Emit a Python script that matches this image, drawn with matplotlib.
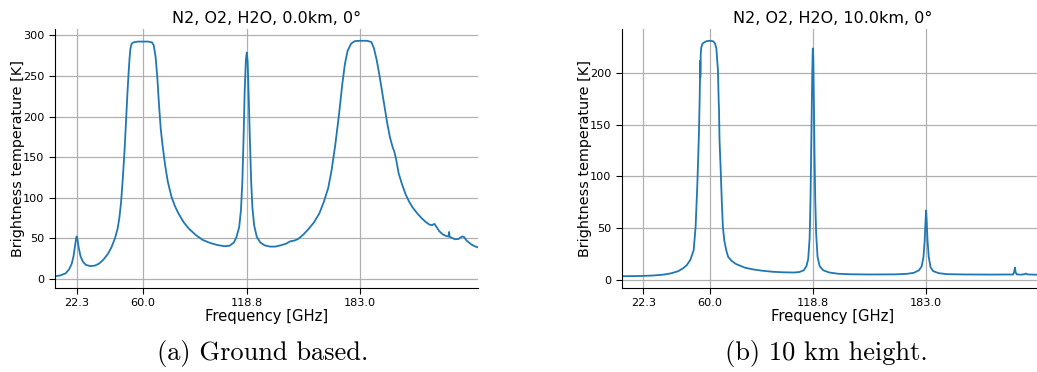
import matplotlib
matplotlib.use("Agg")
import matplotlib.pyplot as plt

# ---------------- data ----------------
xticks = [22.3, 60.0, 118.8, 183.0]
xtick_labels = ["22.3", "60.0", "118.8", "183.0"]

freq_ground = [10.0, 13.0, 16.0, 18.0, 19.5, 20.5, 21.3, 21.9, 22.3, 22.8, 23.5, 24.5,
               25.8, 27.5, 30.0, 32.5, 35.0, 37.5, 40.0, 42.0, 44.0, 45.5, 46.5, 47.5,
               48.5, 49.5, 50.3, 51.0, 51.7, 52.3, 52.8, 53.5, 54.5, 57.0, 60.0, 63.0,
               65.0, 66.0, 67.0, 68.0, 69.0, 69.5, 70.0, 71.0, 72.5, 74.0, 76.0, 78.0,
               80.0, 83.0, 86.0, 90.0, 94.0, 98.0, 102.0, 106.0, 109.0, 111.5, 113.0,
               114.5, 115.5, 116.3, 117.0, 117.6, 118.3, 118.8, 119.3, 119.9, 120.6,
               121.3, 122.0, 123.0, 124.5, 126.5, 129.0, 132.0, 135.0, 138.0, 141.0,
               143.5, 146.0, 148.0, 151.0, 154.0, 157.0, 160.0, 162.5, 165.0, 167.0,
               169.0, 171.0, 173.0, 174.5, 176.0, 178.0, 180.0, 183.0, 187.0, 189.5,
               191.0, 192.5, 194.0, 195.5, 197.0, 198.5, 200.0, 201.5, 202.5, 203.5,
               205.0, 207.0, 209.0, 211.0, 213.0, 215.5, 218.0, 220.5, 222.5, 224.0,
               225.3, 226.5, 228.0, 230.0, 232.0, 233.3, 233.6, 233.9, 235.0, 237.0,
               239.0, 241.0, 242.0, 243.5, 246.0, 248.0, 250.0]
tb_ground = [3.5, 4.5, 7.0, 12.0, 19.0, 28.0, 40.0, 49.0, 52.5, 48.0, 38.0, 28.0,
             21.5, 17.5, 16.0, 16.5, 19.0, 24.0, 31.0, 39.0, 50.0, 62.0, 75.0, 95.0,
             125.0, 160.0, 195.0, 225.0, 252.0, 272.0, 284.0, 290.0, 291.5, 292.5, 292.5, 292.5,
             291.5, 288.0, 275.0, 250.0, 215.0, 200.0, 185.0, 165.0, 140.0, 120.0, 102.0, 90.0,
             81.0, 70.0, 62.0, 54.0, 48.0, 44.5, 42.0, 40.5, 41.0, 45.0, 52.0,
             64.0, 85.0, 120.0, 175.0, 230.0, 270.0, 279.0, 268.0, 225.0, 170.0,
             120.0, 88.0, 66.0, 52.0, 45.0, 41.5, 40.0, 40.0, 41.5, 43.5,
             46.5, 47.5, 49.5, 55.0, 62.0, 70.0, 81.0, 95.0, 112.0, 135.0,
             165.0, 200.0, 240.0, 265.0, 281.0, 290.0, 293.0, 293.5, 293.5, 292.0,
             284.0, 270.0, 252.0, 232.0, 212.0, 192.0, 175.0, 163.0, 157.0, 148.0,
             130.0, 116.0, 104.0, 95.0, 88.0, 81.0, 75.0, 70.0, 67.0, 66.5,
             68.0, 64.0, 59.0, 55.0, 53.0, 52.5, 58.0, 52.0, 51.0, 49.0,
             49.5, 52.5, 52.0, 47.5, 43.0, 40.5, 39.0]

freq_10km = [10.0, 20.0, 28.0, 34.0, 38.0, 42.0, 45.0, 47.0, 49.0, 50.9, 52.0, 53.0,
             53.9, 54.3, 54.5, 54.6, 54.7, 54.9, 55.2, 56.0, 58.0, 60.0, 62.0, 63.0,
             63.8, 64.3, 64.7, 65.1, 65.3, 65.6, 66.2, 66.9, 67.5, 68.3, 69.4, 70.5,
             72.5, 75.0, 80.0, 85.0, 90.0, 96.0, 102.0, 108.0, 111.0, 113.5, 115.0,
             116.0, 116.8, 117.3, 117.8, 118.3, 118.6, 118.9, 119.2, 119.6, 120.0,
             120.5, 121.3, 122.5, 124.5, 128.0, 133.0, 140.0, 150.0, 165.0, 172.0,
             176.0, 179.0, 180.5, 181.5, 182.2, 182.7, 183.0, 183.3, 183.8, 184.5,
             185.5, 187.0, 190.0, 195.0, 205.0, 220.0, 232.5, 233.1, 233.5, 233.9,
             234.5, 237.0, 239.0, 239.6, 240.5, 245.0, 250.0]
tb_10km = [3.2, 3.4, 3.9, 4.8, 6.0, 8.0, 11.0, 14.0, 19.0, 28.5, 51.0, 93.0,
           142.0, 175.0, 195.0, 212.0, 196.0, 218.0, 225.0, 229.0, 231.0, 231.5, 231.0, 229.0,
           224.0, 212.0, 203.0, 174.0, 165.0, 135.0, 109.0, 75.0, 51.0, 38.0, 28.5, 22.0,
           18.0, 15.0, 11.5, 9.7, 8.5, 7.5, 7.0, 6.8, 7.3, 9.0, 13.0,
           20.0, 40.0, 77.0, 140.0, 200.0, 224.0, 215.0, 174.0, 120.0, 77.0,
           45.0, 22.0, 13.0, 9.0, 6.8, 5.6, 5.1, 4.9, 5.0, 5.5,
           6.5, 9.0, 13.0, 22.0, 38.0, 58.0, 67.0, 58.0, 38.0, 22.0,
           12.0, 8.2, 6.2, 5.2, 4.9, 4.8, 4.9, 8.0, 11.5, 7.0,
           5.0, 4.7, 5.2, 5.8, 5.0, 4.7, 4.6]

titles = ["N2, O2, H2O, 0.0km, 0°", "N2, O2, H2O, 10.0km, 0°"]
captions = ["(a) Ground based.", "(b) 10 km height."]

# ---------------- figure ----------------
W, H = 1037, 372
fig = plt.figure(figsize=(W / 100, H / 100), dpi=100)

line_color = "#1f77b4"
boxes = [(55, 29, 478, 288), (621.7, 29, 1044, 288)]
series = [(freq_ground, tb_ground), (freq_10km, tb_10km)]

for (x0, y0, x1, y1), (fx, ty), title in zip(boxes, series, titles):
    ax = fig.add_axes([x0 / W, (H - y1) / H, (x1 - x0) / W, (y1 - y0) / H])
    ax.plot(fx, ty, color=line_color, lw=1.3)
    ax.set_xlim(10, 250)
    ax.set_xticks(xticks)
    ax.set_xticklabels(xtick_labels)
    ax.grid(True, color="#b0b0b0", lw=0.9)
    ax.set_axisbelow(True)
    for s in ["top", "right"]:
        ax.spines[s].set_visible(False)
    ax.tick_params(labelsize=8.1, length=4, width=0.8)
    ax.set_xlabel("Frequency [GHz]", fontsize=10.6, labelpad=0.5)
    ax.set_ylabel("Brightness temperature [K]", fontsize=10.4)
    ax.yaxis.set_label_coords(-0.071, 0.5)
    ax.set_title(title, fontsize=11.5, pad=4)

cap_x = [263, 826]
for cx, cap in zip(cap_x, captions):
    fig.text(cx / W, (H - 360) / H, cap, family="cmr10", fontsize=19,
             ha="center", va="baseline")

fig.savefig("out.png", dpi=100)
